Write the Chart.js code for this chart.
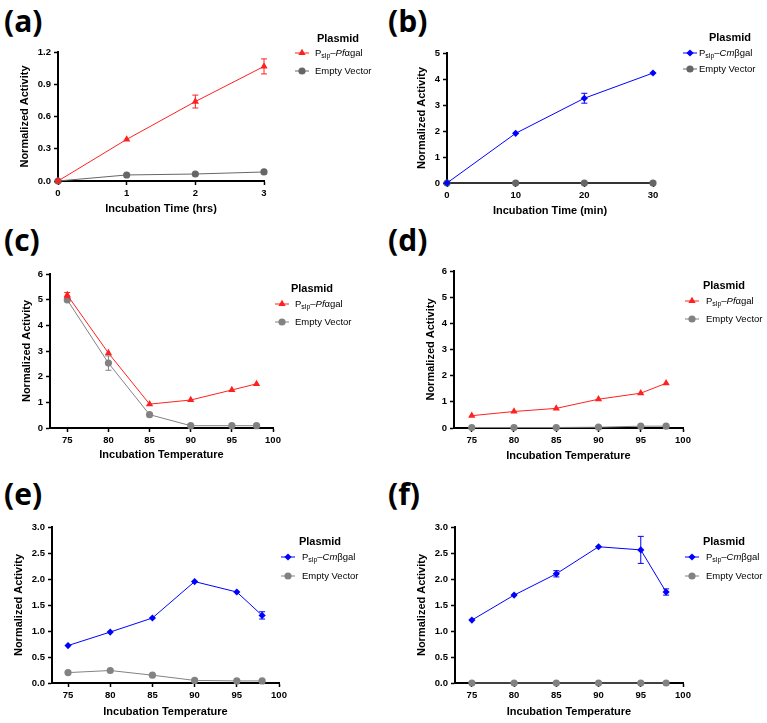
<!DOCTYPE html>
<html>
<head>
<meta charset="utf-8">
<script src="https://cdn.jsdelivr.net/npm/chart.js@4/dist/chart.umd.min.js"></script>
<style>
  body { margin: 0; background: #fff; width: 767px; height: 723px; position: relative; overflow: hidden; }
  canvas { position: absolute; }
  .lbl { position: absolute; font-family: "Open Sans", sans-serif; font-weight: 700; font-size: 30px; line-height: 1; color: #000; }
</style>
</head>
<body>
<div class="lbl" style="left:4px;top:6px">(a)</div>
<div class="lbl" style="left:388px;top:6px">(b)</div>
<div class="lbl" style="left:4px;top:225px">(c)</div>
<div class="lbl" style="left:388px;top:225px">(d)</div>
<div class="lbl" style="left:4px;top:479px">(e)</div>
<div class="lbl" style="left:388px;top:479px">(f)</div>

<canvas id="chartA"></canvas>
<canvas id="chartB"></canvas>
<canvas id="chartC"></canvas>
<canvas id="chartD"></canvas>
<canvas id="chartE"></canvas>
<canvas id="chartF"></canvas>

<script>
// Data
const timeHrs = [0, 1, 2, 3];
const pfA = [0, 0.387, 0.739, 1.066];
const pfAErr = [0, 0.012, 0.06, 0.07];
const evA = [0, 0.056, 0.065, 0.084];

const timeMin = [0, 10, 20, 30];
const cmB = [0, 1.91, 3.26, 4.23];
const cmBErr = [0, 0.05, 0.19, 0.04];
const evB = [0, 0, 0, 0];

const temps = [75, 80, 85, 90, 95, 98];
const pfC = [5.18, 2.92, 0.93, 1.09, 1.48, 1.72];
const pfCErr = [0.1, 0.08, 0.04, 0.04, 0.04, 0.05];
const evC = [4.99, 2.53, 0.52, 0.09, 0.09, 0.09];
const evCErr = [0.05, 0.28, 0.03, 0, 0, 0];

const pfD = [0.47, 0.63, 0.75, 1.1, 1.33, 1.71];
const pfDErr = [0.02, 0.02, 0.02, 0.03, 0.03, 0.04];
const evD = [0.02, 0.02, 0.02, 0.03, 0.07, 0.07];

const cmE = [0.72, 0.98, 1.25, 1.95, 1.75, 1.3];
const cmEErr = [0.02, 0.02, 0.02, 0.02, 0.02, 0.07];
const evE = [0.2, 0.24, 0.15, 0.05, 0.04, 0.04];

const cmF = [1.21, 1.69, 2.1, 2.62, 2.56, 1.75];
const cmFErr = [0.02, 0.02, 0.06, 0.03, 0.26, 0.06];
const evF = [0, 0, 0, 0, 0, 0];

// Tick labels
const xTicksHrs = [0, 1, 2, 3];
const xTicksMin = [0, 10, 20, 30];
const xTicksTemp = [75, 80, 85, 90, 95, 100];
const yTicksA = [0, 0.3, 0.6, 0.9, 1.2];
const yTicksB = [0, 1, 2, 3, 4, 5];
const yTicks6 = [0, 1, 2, 3, 4, 5, 6];
const yTicks3 = [0, 0.5, 1.0, 1.5, 2.0, 2.5, 3.0];

// Legend labels
const pfLabel = [{ t: "P" }, { t: "slp", sub: true }, { t: "\u2013" }, { t: "Pf", it: true }, { t: "\u03b1gal" }];
const cmLabel = [{ t: "P" }, { t: "slp", sub: true }, { t: "\u2013" }, { t: "Cm", it: true }, { t: "\u03b2gal" }];
const evLabel = [{ t: "Empty Vector" }];

const FONT = '"Liberation Sans", Arial, sans-serif';
const RED = "#ff2020";
const BLUE = "#0000ff";
const GRAY_DARK = "#666666";
const GRAY = "#828282";

// Error bars plugin
const errorBars = {
  id: "errorBars",
  afterDatasetsDraw(chart) {
    const ctx = chart.ctx;
    const yScale = chart.scales.y;
    chart.data.datasets.forEach((ds, di) => {
      if (!ds.errors) return;
      const meta = chart.getDatasetMeta(di);
      ctx.save();
      ctx.strokeStyle = ds.borderColor;
      ctx.lineWidth = 1;
      meta.data.forEach((pt, i) => {
        const e = ds.errors[i];
        if (!e) return;
        const v = ds.data[i].y;
        const y1 = yScale.getPixelForValue(v + e);
        const y2 = yScale.getPixelForValue(v - e);
        if (y2 - y1 < 5) return;
        ctx.beginPath();
        ctx.moveTo(pt.x, y1);
        ctx.lineTo(pt.x, y2);
        ctx.moveTo(pt.x - 3, y1);
        ctx.lineTo(pt.x + 3, y1);
        ctx.moveTo(pt.x - 3, y2);
        ctx.lineTo(pt.x + 3, y2);
        ctx.stroke();
      });
      ctx.restore();
    });
  },
};

// Custom legend with subscript and italic
const plasmidLegend = {
  id: "plasmidLegend",
  afterDraw(chart, args, opts) {
    const ctx = chart.ctx;
    ctx.save();
    ctx.fillStyle = "#000";
    ctx.textBaseline = "middle";
    ctx.textAlign = "center";
    ctx.font = "bold 11px " + FONT;
    ctx.fillText("Plasmid", opts.titleX, opts.titleY);
    ctx.textAlign = "left";
    chart.data.datasets.forEach((ds, i) => {
      const y = opts.rows[i];
      ctx.strokeStyle = ds.borderColor;
      ctx.lineWidth = 1;
      ctx.beginPath();
      ctx.moveTo(opts.markX - 7, y);
      ctx.lineTo(opts.markX + 7, y);
      ctx.stroke();
      ctx.fillStyle = ds.backgroundColor;
      Chart.helpers.drawPoint(ctx, { pointStyle: ds.pointStyle, radius: ds.pointRadius, rotation: 0, borderWidth: 0 }, opts.markX, y);
      ctx.fillStyle = "#000";
      let x = opts.textX;
      ds.legendParts.forEach((p) => {
        const size = p.sub ? 7 : 9.5;
        ctx.font = (p.it ? "italic " : "") + size + "px " + FONT;
        ctx.fillText(p.t, x, p.sub ? y + 3 : y);
        x += ctx.measureText(p.t).width;
      });
    });
    ctx.restore();
  },
};

function makePanel(id, p) {
  const cv = document.getElementById(id);
  cv.width = p.box.w;
  cv.height = p.box.h;
  cv.style.left = p.box.x + "px";
  cv.style.top = p.box.y + "px";

  // chart area placement in page coords -> canvas padding
  const halfTitle = 6.6;
  const padLeft = p.yTitleX - p.box.x - halfTitle;
  const yW = p.area.l - p.box.x - padLeft;
  const scaleBottom = p.xTitleY - p.box.y + halfTitle;
  const xH = scaleBottom - (p.area.b - p.box.y);
  const pad = {
    left: padLeft,
    top: p.area.t - p.box.y,
    right: p.box.x + p.box.w - p.area.r,
    bottom: p.box.h - scaleBottom,
  };

  const axisCommon = {
    type: "linear",
    border: { display: true, color: "#000", width: 2 },
    grid: { display: true, drawOnChartArea: false, drawTicks: true, tickLength: 4, tickWidth: 1.5, tickColor: "#000" },
  };

  new Chart(cv, {
    type: "line",
    data: {
      datasets: p.sets.map((s) => ({
        label: s.parts.map((q) => q.t).join(""),
        legendParts: s.parts,
        data: p.xs.map((x, i) => ({ x: x, y: s.ys[i] })),
        errors: s.err,
        borderColor: s.color,
        backgroundColor: s.color,
        borderWidth: 1,
        pointStyle: s.marker,
        pointRadius: s.r,
        pointHoverRadius: s.r,
        pointBorderWidth: 0,
        tension: 0,
        clip: false,
      })),
    },
    options: {
      responsive: false,
      animation: false,
      events: [],
      layout: { padding: pad },
      plugins: {
        legend: { display: false },
        tooltip: { enabled: false },
        plasmidLegend: {
          titleX: p.legend.titleX - p.box.x,
          titleY: p.legend.titleY - p.box.y,
          markX: p.legend.markX - p.box.x,
          textX: p.legend.textX - p.box.x,
          rows: p.legend.rows.map((r) => r - p.box.y),
        },
      },
      scales: {
        x: {
          ...axisCommon,
          min: p.xMin,
          max: p.xMax,
          afterBuildTicks: (s) => { s.ticks = p.xTicks.map((v) => ({ value: v })); },
          afterFit: (s) => { s.height = xH; },
          ticks: { color: "#000", autoSkip: false, maxRotation: 0, padding: 3, font: { family: FONT, size: 9.5, weight: "bold" } },
          title: { display: true, text: p.xTitle, color: "#000", padding: 0, font: { family: FONT, size: 11, weight: "bold" } },
        },
        y: {
          ...axisCommon,
          min: 0,
          max: p.yMax,
          afterBuildTicks: (s) => { s.ticks = p.yTicks.map((v) => ({ value: v })); },
          afterFit: (s) => { s.width = yW; },
          ticks: {
            color: "#000", autoSkip: false, padding: 3,
            font: { family: FONT, size: 9.5, weight: "bold" },
            callback: (v) => (p.yDec ? Number(v).toFixed(1) : String(v)),
          },
          title: { display: true, text: "Normalized Activity", color: "#000", padding: 0, font: { family: FONT, size: 11, weight: "bold" } },
        },
      },
    },
    plugins: [errorBars, plasmidLegend],
  });
}

makePanel("chartA", {
  box: { x: 0, y: 0, w: 384, h: 222 },
  area: { l: 58, t: 52, r: 264, b: 181 },
  yTitleX: 25, xTitleY: 209,
  xs: timeHrs, xMin: 0, xMax: 3, xTicks: xTicksHrs, xTitle: "Incubation Time (hrs)",
  yMax: 1.2, yTicks: yTicksA, yDec: true,
  legend: { titleX: 338, titleY: 39, markX: 302, textX: 315, rows: [53, 71] },
  sets: [
    { parts: pfLabel, ys: pfA, err: pfAErr, color: RED, marker: "triangle", r: 4.2 },
    { parts: evLabel, ys: evA, color: GRAY_DARK, marker: "circle", r: 3.6 },
  ],
});

makePanel("chartB", {
  box: { x: 384, y: 0, w: 383, h: 222 },
  area: { l: 447, t: 53, r: 653, b: 183 },
  yTitleX: 422, xTitleY: 211,
  xs: timeMin, xMin: 0, xMax: 30, xTicks: xTicksMin, xTitle: "Incubation Time (min)",
  yMax: 5, yTicks: yTicksB, yDec: false,
  legend: { titleX: 730, titleY: 38, markX: 690, textX: 699, rows: [53, 69] },
  sets: [
    { parts: cmLabel, ys: cmB, err: cmBErr, color: BLUE, marker: "rectRot", r: 3.6 },
    { parts: evLabel, ys: evB, color: GRAY_DARK, marker: "circle", r: 3.6 },
  ],
});

makePanel("chartC", {
  box: { x: 0, y: 220, w: 384, h: 247 },
  area: { l: 50, t: 274, r: 273, b: 428 },
  yTitleX: 27, xTitleY: 455,
  xs: temps, xMin: 72.9, xMax: 100, xTicks: xTicksTemp, xTitle: "Incubation Temperature",
  yMax: 6, yTicks: yTicks6, yDec: false,
  legend: { titleX: 312, titleY: 289, markX: 282, textX: 295, rows: [304, 322] },
  sets: [
    { parts: pfLabel, ys: pfC, err: pfCErr, color: RED, marker: "triangle", r: 4.2 },
    { parts: evLabel, ys: evC, err: evCErr, color: GRAY, marker: "circle", r: 3.6 },
  ],
});

makePanel("chartD", {
  box: { x: 384, y: 220, w: 383, h: 247 },
  area: { l: 454, t: 271, r: 683, b: 428 },
  yTitleX: 431, xTitleY: 456,
  xs: temps, xMin: 72.9, xMax: 100, xTicks: xTicksTemp, xTitle: "Incubation Temperature",
  yMax: 6, yTicks: yTicks6, yDec: false,
  legend: { titleX: 724, titleY: 286, markX: 692, textX: 706, rows: [301, 319] },
  sets: [
    { parts: pfLabel, ys: pfD, err: pfDErr, color: RED, marker: "triangle", r: 4.2 },
    { parts: evLabel, ys: evD, color: GRAY, marker: "circle", r: 3.6 },
  ],
});

makePanel("chartE", {
  box: { x: 0, y: 460, w: 384, h: 263 },
  area: { l: 52, t: 527, r: 279, b: 683 },
  yTitleX: 19, xTitleY: 712,
  xs: temps, xMin: 73.1, xMax: 100, xTicks: xTicksTemp, xTitle: "Incubation Temperature",
  yMax: 3, yTicks: yTicks3, yDec: true,
  legend: { titleX: 320, titleY: 542, markX: 288, textX: 302, rows: [557, 576] },
  sets: [
    { parts: cmLabel, ys: cmE, err: cmEErr, color: BLUE, marker: "rectRot", r: 3.6 },
    { parts: evLabel, ys: evE, color: GRAY, marker: "circle", r: 3.6 },
  ],
});

makePanel("chartF", {
  box: { x: 384, y: 460, w: 383, h: 263 },
  area: { l: 455, t: 527, r: 683, b: 683 },
  yTitleX: 422, xTitleY: 712,
  xs: temps, xMin: 73, xMax: 100, xTicks: xTicksTemp, xTitle: "Incubation Temperature",
  yMax: 3, yTicks: yTicks3, yDec: true,
  legend: { titleX: 724, titleY: 542, markX: 692, textX: 706, rows: [557, 576] },
  sets: [
    { parts: cmLabel, ys: cmF, err: cmFErr, color: BLUE, marker: "rectRot", r: 3.6 },
    { parts: evLabel, ys: evF, color: GRAY, marker: "circle", r: 3.6 },
  ],
});
</script>
</body>
</html>
